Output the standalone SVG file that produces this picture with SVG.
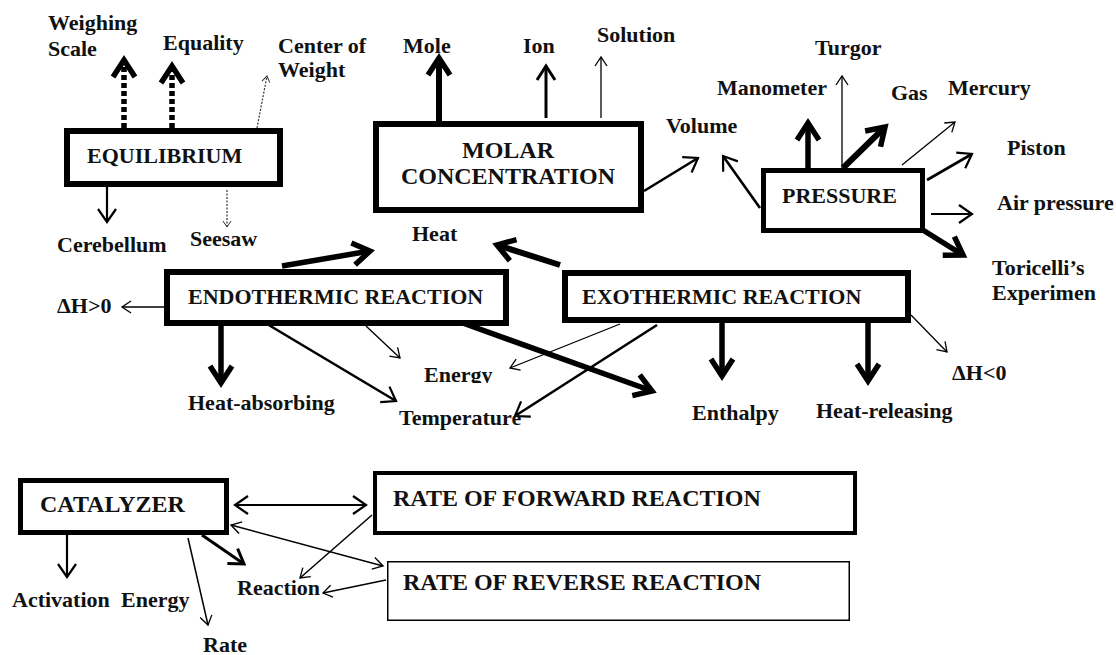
<svg xmlns="http://www.w3.org/2000/svg" width="1116" height="655" viewBox="0 0 1116 655">
  <style>
    text { font-family: "Liberation Serif", "Times New Roman", serif; font-weight: bold; fill: #111; }
    .lbl { font-size: 22px; }
    .big { font-size: 24px; }
    .box { fill: #fff; stroke: #000; }
    .c { fill: none; stroke: #000; }
    .xl { stroke-width: 5.5; marker-end: url(#ah-xl); }
    .l  { stroke-width: 3; marker-end: url(#ah-l); }
    .m  { stroke-width: 2.2; marker-end: url(#ah-m); }
    .s  { stroke-width: 1.3; marker-end: url(#ah-s); }
    .dotbig { stroke-width: 5.5; stroke-dasharray: 5 3; }
    .dotthin { stroke-width: 1.2; stroke-dasharray: 2 1.5; stroke: #333; }
  </style>
  <defs>
    <marker id="ah-xl" markerUnits="userSpaceOnUse" orient="auto" refX="0" refY="0" markerWidth="1" markerHeight="1" overflow="visible">
      <path d="M-17,-11 L0,0 L-17,11" fill="none" stroke="#000" stroke-width="5.5"/>
    </marker>
    <marker id="ah-l" markerUnits="userSpaceOnUse" orient="auto" refX="0" refY="0" markerWidth="1" markerHeight="1" overflow="visible">
      <path d="M-14,-9 L0,0 L-14,9" fill="none" stroke="#000" stroke-width="3"/>
    </marker>
    <marker id="ah-m" markerUnits="userSpaceOnUse" orient="auto" refX="0" refY="0" markerWidth="1" markerHeight="1" overflow="visible">
      <path d="M-13,-9 L0,0 L-13,9" fill="none" stroke="#000" stroke-width="2.2"/>
    </marker>
    <marker id="ah-m-both" markerUnits="userSpaceOnUse" orient="auto-start-reverse" refX="0" refY="0" markerWidth="1" markerHeight="1" overflow="visible">
      <path d="M-13,-9 L0,0 L-13,9" fill="none" stroke="#000" stroke-width="2.2"/>
    </marker>
    <marker id="ah-s" markerUnits="userSpaceOnUse" orient="auto" refX="0" refY="0" markerWidth="1" markerHeight="1" overflow="visible">
      <path d="M-9,-6 L0,0 L-9,6" fill="none" stroke="#000" stroke-width="1.3"/>
    </marker>
    <marker id="ah-s-both" markerUnits="userSpaceOnUse" orient="auto-start-reverse" refX="0" refY="0" markerWidth="1" markerHeight="1" overflow="visible">
      <path d="M-10,-6 L0,0 L-10,6" fill="none" stroke="#000" stroke-width="1.4"/>
    </marker>
    <marker id="ah-dot" markerUnits="userSpaceOnUse" orient="auto" refX="0" refY="0" markerWidth="1" markerHeight="1" overflow="visible">
      <path d="M-6,-4 L0,0 L-6,4" fill="none" stroke="#333" stroke-width="1"/>
    </marker>
    <clipPath id="clip-energy">
      <rect x="400" y="350" width="120" height="33"/>
    </clipPath>
  </defs>

  <!-- connectors -->
  <g id="connectors">
    <!-- equilibrium -->
    <path class="c dotbig" d="M124,128 L124,60" marker-end="url(#ah-xl)"/>
    <path class="c dotbig" d="M172,128 L172,66" marker-end="url(#ah-xl)"/>
    <path class="c dotthin" d="M257,128 L267,76" marker-end="url(#ah-dot)"/>
    <path class="c m" d="M107,187 L107,222"/>
    <path class="c dotthin" d="M227,190 L227,227" marker-end="url(#ah-dot)"/>
    <!-- molar concentration -->
    <path class="c xl" d="M439,121 L439,58" style="stroke-width:6"/>
    <path class="c l" d="M546,118 L546,66"/>
    <path class="c s" d="M601,118 L601,57"/>
    <path class="c m" d="M644,191 L698,158" style="stroke-width:2.6"/>
    <!-- pressure -->
    <path class="c m" d="M760,208 L723,156" style="stroke-width:2.6"/>
    <path class="c xl" d="M808,168 L808,123"/>
    <path class="c s" d="M842,168 L842,76"/>
    <path class="c xl" d="M843,168 L885,127" style="stroke-width:6"/>
    <path class="c s" d="M902,165 L955,122"/>
    <path class="c m" d="M927,180 L972,154" style="stroke-width:2.6"/>
    <path class="c m" d="M931,214 L972,214" style="stroke-width:1.8"/>
    <path class="c xl" d="M918,227 L963,255"/>
    <!-- endothermic -->
    <path class="c xl" d="M282,266 L370,251"/>
    <path class="c s" d="M172,307 L122,307" style="stroke-width:1.5"/>
    <path class="c xl" d="M221,326 L221,383"/>
    <path class="c m" d="M257,318 L396,401" style="stroke-width:2.6"/>
    <path class="c s" d="M366,326 L400,358"/>
    <path class="c xl" d="M460,322 L652,391"/>
    <!-- exothermic -->
    <path class="c xl" d="M560,265 L497,245" style="stroke-width:6"/>
    <path class="c s" d="M620,324 L510,368"/>
    <path class="c m" d="M657,325 L515,416" style="stroke-width:2.6"/>
    <path class="c xl" d="M722,323 L722,376"/>
    <path class="c xl" d="M868,323 L868,381"/>
    <path class="c s" d="M911,315 L947,352"/>
    <!-- catalyzer -->
    <path class="c" d="M235,505 L366,505" stroke-width="2.2" marker-start="url(#ah-m-both)" marker-end="url(#ah-m-both)"/>
    <path class="c m" d="M67,535 L67,577"/>
    <path class="c s" d="M188,538 L208,625" style="stroke-width:1.5"/>
    <path class="c l" d="M202,535 L244,564"/>
    <path class="c" d="M231,525 L383,566" stroke-width="1.6" marker-start="url(#ah-s-both)" marker-end="url(#ah-s-both)"/>
    <path class="c s" d="M372,515 L300,578" style="stroke-width:1.5"/>
    <path class="c s" d="M386,580 L323,593" style="stroke-width:1.5"/>
  </g>

  <!-- equilibrium -->
  <g id="equilibrium">
    <rect class="box" x="67" y="131" width="213" height="53" stroke-width="6"/>
    <text class="lbl" x="87" y="163">EQUILIBRIUM</text>
  </g>
  <g id="equilibrium-labels">
    <text class="lbl" x="48" y="30">Weighing</text>
    <text class="lbl" x="48" y="56">Scale</text>
    <text class="lbl" x="163" y="50">Equality</text>
    <text class="lbl" x="278" y="53">Center of</text>
    <text class="lbl" x="278" y="77">Weight</text>
    <text class="lbl" x="57" y="252">Cerebellum</text>
    <text class="lbl" x="190" y="246">Seesaw</text>
  </g>

  <!-- molar concentration -->
  <g id="molar-concentration">
    <rect class="box" x="376" y="124" width="265" height="86" stroke-width="6"/>
    <text class="big" x="508" y="158" text-anchor="middle">MOLAR</text>
    <text class="big" x="508" y="184" text-anchor="middle">CONCENTRATION</text>
  </g>
  <g id="molar-labels">
    <text class="lbl" x="403" y="53">Mole</text>
    <text class="lbl" x="523" y="53">Ion</text>
    <text class="lbl" x="597" y="42">Solution</text>
    <text class="lbl" x="666" y="133">Volume</text>
  </g>

  <!-- pressure -->
  <g id="pressure">
    <rect class="box" x="763.5" y="170.5" width="159" height="60" stroke-width="5"/>
    <text class="lbl" x="782" y="203">PRESSURE</text>
  </g>
  <g id="pressure-labels">
    <text class="lbl" x="815" y="55">Turgor</text>
    <text class="lbl" x="717" y="95">Manometer</text>
    <text class="lbl" x="891" y="100">Gas</text>
    <text class="lbl" x="948" y="95">Mercury</text>
    <text class="lbl" x="1007" y="155">Piston</text>
    <text class="lbl" x="997" y="210">Air pressure</text>
    <text class="lbl" x="992" y="275">Toricelli’s</text>
    <text class="lbl" x="992" y="300">Experimen</text>
  </g>

  <!-- endothermic reaction -->
  <g id="endothermic">
    <rect class="box" x="167" y="272" width="339" height="51" stroke-width="6"/>
    <text class="lbl" x="188" y="304">ENDOTHERMIC REACTION</text>
  </g>

  <!-- exothermic reaction -->
  <g id="exothermic">
    <rect class="box" x="565" y="273" width="343" height="47" stroke-width="6"/>
    <text class="lbl" x="582" y="304">EXOTHERMIC REACTION</text>
  </g>

  <g id="reaction-labels">
    <text class="lbl" x="412" y="241">Heat</text>
    <text class="lbl" x="57" y="313">ΔH&gt;0</text>
    <text class="lbl" x="424" y="382" clip-path="url(#clip-energy)">Energy</text>
    <text class="lbl" x="188" y="410">Heat-absorbing</text>
    <text class="lbl" x="399" y="425">Temperature</text>
    <text class="lbl" x="692" y="420">Enthalpy</text>
    <text class="lbl" x="816" y="418">Heat-releasing</text>
    <text class="lbl" x="952" y="380">ΔH&lt;0</text>
  </g>

  <!-- catalyzer -->
  <g id="catalyzer">
    <rect class="box" x="20.5" y="480.5" width="206" height="52" stroke-width="5"/>
    <text class="big" x="40" y="512">CATALYZER</text>
  </g>
  <g id="forward-rate">
    <rect class="box" x="375" y="473" width="480" height="60" stroke-width="4"/>
    <text class="big" x="393" y="506">RATE OF FORWARD REACTION</text>
  </g>
  <g id="reverse-rate">
    <rect class="box" x="387.75" y="561.75" width="461.5" height="58.5" stroke-width="1.5"/>
    <text class="big" x="403" y="590">RATE OF REVERSE REACTION</text>
  </g>
  <g id="catalyzer-labels">
    <text class="lbl" y="607"><tspan x="12">Activation</tspan><tspan x="121">Energy</tspan></text>
    <text class="lbl" x="203" y="652">Rate</text>
    <text class="lbl" x="237" y="595">Reaction</text>
  </g>
</svg>
